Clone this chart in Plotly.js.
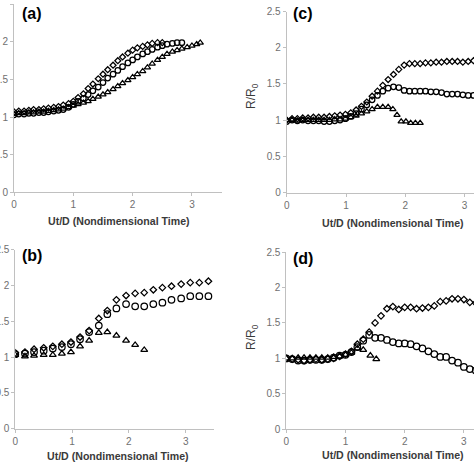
<!DOCTYPE html>
<html>
<head>
<meta charset="utf-8">
<script src="https://cdn.plot.ly/plotly-3.0.1.min.js"></script>
<style>
html,body{margin:0;padding:0;overflow:hidden;background:#fff;width:474px;height:474px;}
#plot{position:absolute;left:-24px;top:0;width:520px;height:474px;}
</style>
</head>
<body>
<div id="plot"></div>
<script>
// ---------- Panel (a) ----------
const aDiaX = [0,0.08,0.17,0.25,0.33,0.42,0.5,0.58,0.67,0.75,0.83,0.92,1.0,1.08,1.17,1.25,1.33,1.42,1.5,1.58,1.67,1.75,1.83,1.92,2.0,2.08,2.17,2.25,2.33,2.42,2.5];
const aDiaY = [1.07,1.08,1.08,1.09,1.10,1.10,1.11,1.12,1.13,1.14,1.16,1.18,1.21,1.26,1.31,1.38,1.44,1.51,1.57,1.63,1.69,1.75,1.80,1.85,1.89,1.92,1.94,1.96,1.98,1.99,1.99];
const aCirX = [0,0.08,0.17,0.25,0.33,0.42,0.5,0.58,0.67,0.75,0.83,0.92,1.0,1.08,1.17,1.25,1.33,1.42,1.5,1.58,1.67,1.75,1.83,1.92,2.0,2.08,2.17,2.25,2.33,2.42,2.5,2.58,2.67,2.75,2.83];
const aCirY = [1.03,1.04,1.04,1.05,1.05,1.06,1.06,1.07,1.08,1.09,1.10,1.13,1.17,1.21,1.25,1.30,1.35,1.40,1.46,1.52,1.57,1.62,1.67,1.72,1.76,1.80,1.84,1.87,1.90,1.93,1.95,1.97,1.98,1.99,1.99];
const aTriX = [0,0.08,0.17,0.25,0.33,0.42,0.5,0.58,0.67,0.75,0.83,0.92,1.0,1.08,1.17,1.25,1.33,1.42,1.5,1.58,1.67,1.75,1.83,1.92,2.0,2.08,2.17,2.25,2.33,2.42,2.5,2.58,2.67,2.75,2.83,2.92,3.0,3.08,3.14];
const aTriY = [1.04,1.05,1.05,1.06,1.06,1.07,1.07,1.08,1.09,1.10,1.11,1.13,1.15,1.17,1.19,1.21,1.24,1.27,1.30,1.33,1.37,1.41,1.45,1.49,1.53,1.57,1.61,1.66,1.71,1.76,1.80,1.84,1.87,1.89,1.91,1.93,1.95,1.97,1.99];

// ---------- Panel (b) ----------
const bX    = [0,0.17,0.33,0.5,0.66,0.82,0.98,1.14,1.3,1.47,1.62,1.78,1.95,2.11,2.27,2.43,2.59,2.75,2.92,3.08,3.24,3.4];
const bDiaY = [1.06,1.07,1.11,1.13,1.15,1.18,1.21,1.28,1.37,1.54,1.65,1.80,1.86,1.89,1.90,1.94,1.97,1.99,2.02,2.04,2.04,2.06];
const bCirY = [1.04,1.05,1.07,1.09,1.12,1.14,1.18,1.25,1.35,1.44,1.60,1.68,1.74,1.71,1.71,1.74,1.76,1.80,1.82,1.85,1.85,1.85];
const bTriX = [0,0.17,0.33,0.5,0.66,0.82,0.98,1.14,1.3,1.47,1.62,1.78,1.95,2.11,2.27];
const bTriY = [1.03,1.01,1.02,1.03,1.03,1.05,1.07,1.15,1.23,1.34,1.35,1.30,1.23,1.17,1.10];

// ---------- Panel (c) ----------
const cX    = [0,0.09,0.18,0.27,0.36,0.45,0.54,0.63,0.72,0.81,0.9,0.99,1.08,1.17,1.26,1.35,1.44,1.53,1.62,1.71,1.8,1.89,1.98,2.07,2.16,2.25,2.34,2.43,2.52,2.61,2.7,2.79,2.88,2.97,3.06,3.15,3.24];
const cDiaY = [1.00,1.02,1.02,1.03,1.03,1.04,1.04,1.04,1.05,1.06,1.07,1.08,1.10,1.14,1.19,1.25,1.33,1.40,1.48,1.56,1.63,1.70,1.76,1.78,1.78,1.78,1.79,1.79,1.80,1.80,1.81,1.81,1.81,1.80,1.81,1.82,1.82];
const cCirY = [0.98,1.00,0.99,1.00,0.99,0.99,0.99,0.98,0.98,0.99,1.00,1.02,1.05,1.09,1.15,1.21,1.28,1.34,1.40,1.44,1.46,1.45,1.41,1.40,1.40,1.40,1.40,1.39,1.39,1.38,1.36,1.36,1.36,1.35,1.34,1.34,1.34];
const cTriX = [0,0.09,0.18,0.27,0.36,0.45,0.54,0.63,0.72,0.81,0.9,0.99,1.08,1.17,1.26,1.35,1.44,1.53,1.62,1.71,1.79,1.86,1.93,2.01,2.09,2.17,2.25];
const cTriY = [1.00,1.00,0.99,1.00,1.00,1.00,1.00,1.00,1.00,1.01,1.01,1.02,1.04,1.06,1.09,1.12,1.15,1.18,1.18,1.18,1.15,1.07,0.98,0.98,0.96,0.96,0.96];

// ---------- Panel (d) ----------
const dX    = [0,0.1,0.2,0.3,0.4,0.5,0.6,0.7,0.8,0.9,1.0,1.1,1.2,1.3,1.4,1.5,1.6,1.7,1.8,1.9,2.0,2.1,2.2,2.3,2.4,2.5,2.6,2.7,2.8,2.9,3.0,3.1,3.2];
const dDiaY = [1.00,0.99,0.98,0.97,0.98,0.99,0.98,0.99,1.00,1.03,1.06,1.10,1.20,1.27,1.37,1.50,1.60,1.70,1.73,1.69,1.72,1.72,1.70,1.71,1.72,1.74,1.80,1.81,1.84,1.84,1.83,1.79,1.78];
const dCirY = [1.00,0.99,0.97,0.97,0.98,0.98,0.98,0.99,1.01,1.04,1.05,1.09,1.16,1.25,1.33,1.29,1.29,1.26,1.23,1.21,1.21,1.20,1.17,1.14,1.10,1.06,1.02,1.02,0.97,0.94,0.88,0.85,0.83];
const dTriX = [0,0.1,0.2,0.3,0.4,0.5,0.6,0.7,0.8,0.9,1.0,1.1,1.2,1.3,1.42,1.52];
const dTriY = [1.00,1.00,1.01,1.01,1.01,1.01,1.01,1.01,1.02,1.03,1.05,1.08,1.14,1.12,1.04,0.99];

const xTicks = [0,1,2,3];
const panelLabels = ['(a)','(b)','(c)','(d)'];
const xTitle = 'Ut/D (Nondimensional Time)';
const yTitle = 'R/R<sub>0</sub>';

// ---------- layout helpers (page pixel -> paper) ----------
const W = 520, H = 474, OFF = 24;
const px = x => (x + OFF) / W;
const py = y => 1 - y / H;

function series(x, y, sym, sz, xa, ya) {
  return {x: x, y: y, xaxis: xa, yaxis: ya, type: 'scatter', mode: 'markers',
    marker: {symbol: sym, size: sz, color: '#000', line: {width: 1.25, color: '#000'}},
    hoverinfo: 'skip', showlegend: false};
}

const data = [
  series(aDiaX, aDiaY, 'diamond-open', 4.6, 'x', 'y'),
  series(aCirX, aCirY, 'circle-open', 5.5, 'x', 'y'),
  series(aTriX, aTriY, 'triangle-up-open', 5.5, 'x', 'y'),
  series(cX, cDiaY, 'diamond-open', 4.6, 'x2', 'y2'),
  series(cX, cCirY, 'circle-open', 5.5, 'x2', 'y2'),
  series(cTriX, cTriY, 'triangle-up-open', 5.5, 'x2', 'y2'),
  series(bX, bDiaY, 'diamond-open', 5, 'x3', 'y3'),
  series(bX, bCirY, 'circle-open', 6.5, 'x3', 'y3'),
  series(bTriX, bTriY, 'triangle-up-open', 6, 'x3', 'y3'),
  series(dX, dDiaY, 'diamond-open', 5, 'x4', 'y4'),
  series(dX, dCirY, 'circle-open', 6.5, 'x4', 'y4'),
  series(dTriX, dTriY, 'triangle-up-open', 6, 'x4', 'y4')
];

const tickFont = {family: 'Liberation Sans, Arial, sans-serif', size: 10, color: '#707070'};
function xax(d0, d1, anchor) {
  return {domain: [d0, d1], anchor: anchor, range: [0, 3.5], tickvals: xTicks,
    showline: true, linecolor: '#c0c0c0', linewidth: 1, ticks: 'outside', ticklen: 3,
    tickcolor: '#c0c0c0', showgrid: false, zeroline: false, tickfont: tickFont, fixedrange: true};
}
function yax(d0, d1, anchor) {
  return {domain: [d0, d1], anchor: anchor, range: [0, 2.5], dtick: 0.5,
    showline: true, linecolor: '#c0c0c0', linewidth: 1, ticks: 'outside', ticklen: 3,
    tickcolor: '#c0c0c0', showgrid: false, zeroline: false, tickfont: tickFont, fixedrange: true};
}

const labFont = {family: 'Liberation Sans, Arial, sans-serif', size: 16, color: '#000', weight: 'bold'};
const xtFont = {family: 'Liberation Sans, Arial, sans-serif', size: 10.6, color: '#3a3a3a', weight: 'bold'};
const ytFont = {family: 'Liberation Sans, Arial, sans-serif', size: 12, color: '#3a3a3a'};
function ann(text, x, y, font, angle) {
  return {text: text, x: px(x), y: py(y), xref: 'paper', yref: 'paper',
    xanchor: 'center', yanchor: 'middle', showarrow: false, font: font, textangle: angle || 0};
}

const layout = {
  width: W, height: H, margin: {l: 0, r: 0, t: 0, b: 0},
  paper_bgcolor: '#fff', plot_bgcolor: '#fff', showlegend: false,
  xaxis:  xax(px(14),    px(221.6), 'y'),
  yaxis:  yax(py(192.3), py(4.3),   'x'),
  xaxis2: xax(px(286.7), px(494.3), 'y2'),
  yaxis2: yax(py(192.5), py(11.5),  'x2'),
  xaxis3: xax(px(15.3),  px(214.1), 'y3'),
  yaxis3: yax(py(428.7), py(249.7), 'x3'),
  xaxis4: xax(px(286.3), px(493.5), 'y4'),
  yaxis4: yax(py(429.3), py(252),   'x4'),
  annotations: [
    ann('<b>' + panelLabels[0] + '</b>', 31.7, 13.3, labFont),
    ann('<b>' + panelLabels[1] + '</b>', 31.7, 256, labFont),
    ann('<b>' + panelLabels[2] + '</b>', 302.8, 13.5, labFont),
    ann('<b>' + panelLabels[3] + '</b>', 302.5, 258, labFont),
    ann('<b>' + xTitle + '</b>', 118.5, 221, xtFont),
    ann('<b>' + xTitle + '</b>', 392.8, 222.5, xtFont),
    ann('<b>' + xTitle + '</b>', 118.3, 456, xtFont),
    ann('<b>' + xTitle + '</b>', 392.8, 455.3, xtFont),
    ann(yTitle, 252, 96, ytFont, -90),
    ann(yTitle, 252, 337, ytFont, -90)
  ]
};

Plotly.newPlot('plot', data, layout, {staticPlot: true, displayModeBar: false});
</script>
</body>
</html>
